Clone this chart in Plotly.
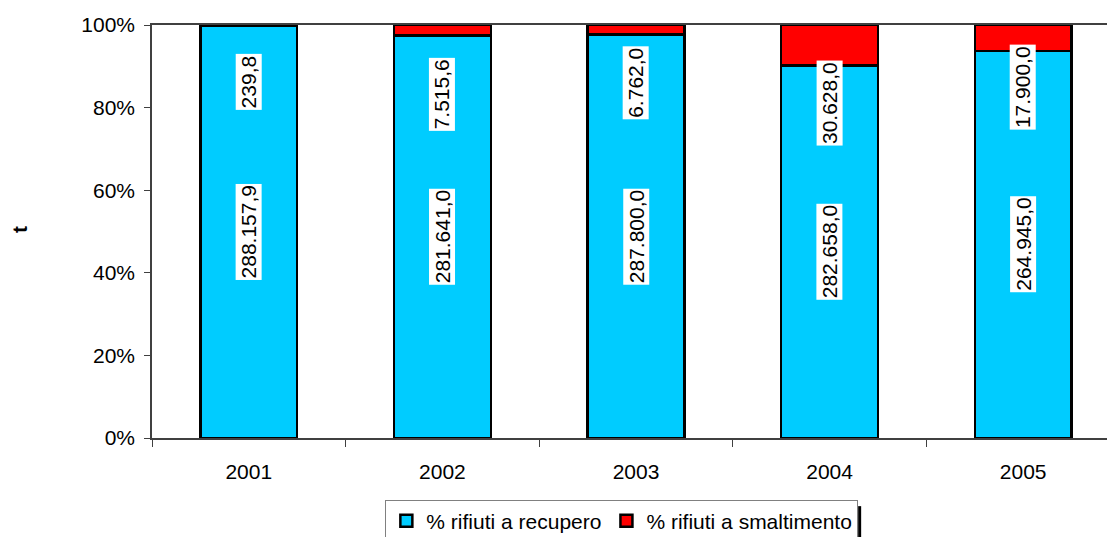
import plotly.graph_objects as go

years = ["2001", "2002", "2003", "2004", "2005"]
recupero = [288157.9, 281641.0, 287800.0, 282658.0, 264945.0]
smaltimento = [239.8, 7515.6, 6762.0, 30628.0, 17900.0]
rec_labels = ["288.157,9", "281.641,0", "287.800,0", "282.658,0", "264.945,0"]
sma_labels = ["239,8", "7.515,6", "6.762,0", "30.628,0", "17.900,0"]
y_ticks = [0, 20, 40, 60, 80, 100]
y_tick_labels = ["0%", "20%", "40%", "60%", "80%", "100%"]

# label placement (layout, in % of axis) for the top-segment labels
sma_label_pos = [86.3, 83.3, 86.0, 81.0, 85.0]

FONT = "Liberation Sans, Arial, sans-serif"
FS = 21

fig = go.Figure()
fig.add_trace(go.Bar(x=years, y=recupero, name="% rifiuti a recupero",
                     marker=dict(color="#00CCFF", line=dict(color="black", width=2.5))))
fig.add_trace(go.Bar(x=years, y=smaltimento, name="% rifiuti a smaltimento",
                     marker=dict(color="#FF0000", line=dict(color="black", width=2.5))))

annotations = []
for i, yr in enumerate(years):
    tot = recupero[i] + smaltimento[i]
    rec_pct = recupero[i] / tot * 100
    annotations.append(dict(x=i, y=rec_pct / 2, xref="x", yref="y", text=rec_labels[i],
                            showarrow=False, textangle=-90, bgcolor="white",
                            font=dict(family=FONT, size=FS, color="black"), borderpad=1))
    annotations.append(dict(x=i, y=sma_label_pos[i], xref="x", yref="y", text=sma_labels[i],
                            showarrow=False, textangle=-90, bgcolor="white",
                            font=dict(family=FONT, size=FS, color="black"), borderpad=1))

annotations.append(dict(x=-0.138, y=0.504, xref="paper", yref="paper", text="<b>t</b>",
                        xanchor="center", yanchor="middle",
                        showarrow=False, textangle=-90,
                        font=dict(family=FONT, size=21, color="black")))

fig.update_layout(
    width=1107, height=537,
    margin=dict(l=152, r=0, t=25, b=99, autoexpand=False),
    barmode="stack", barnorm="percent", bargap=0.5,
    plot_bgcolor="white", paper_bgcolor="white",
    font=dict(family=FONT, size=FS, color="black"),
    annotations=annotations,
    showlegend=True,
    legend=dict(orientation="h", x=0.492, xanchor="center", y=-0.149, yanchor="top",
                traceorder="normal",
                bgcolor="white", bordercolor="#808080", borderwidth=1,
                font=dict(family=FONT, size=FS, color="black"),
                itemwidth=30, tracegroupgap=0),
    xaxis=dict(type="category", range=[-0.5, 4.433], automargin=False,
               showline=True, linecolor="#404040", linewidth=1.5, mirror=True,
               ticks="outside", ticklen=7, tickcolor="#404040", tickson="boundaries",
               showgrid=False, tickfont=dict(size=FS), ticklabelstandoff=14),
    yaxis=dict(range=[0, 100], tickmode="array", tickvals=y_ticks, ticktext=y_tick_labels,
               automargin=False, showline=True,
               linecolor="#404040", linewidth=1.5, ticks="outside", ticklen=6,
               tickcolor="#404040", showgrid=False, zeroline=False,
               tickfont=dict(size=FS), ticklabelstandoff=5),
    shapes=[dict(type="line", xref="paper", yref="paper", x0=0.741, x1=0.741,
                 y0=-0.165, y1=-0.26, line=dict(color="black", width=3))],
)

fig.write_html("out.html", config={"displayModeBar": False},
               post_script="document.body.style.margin='0px';document.body.style.overflow='hidden';")
